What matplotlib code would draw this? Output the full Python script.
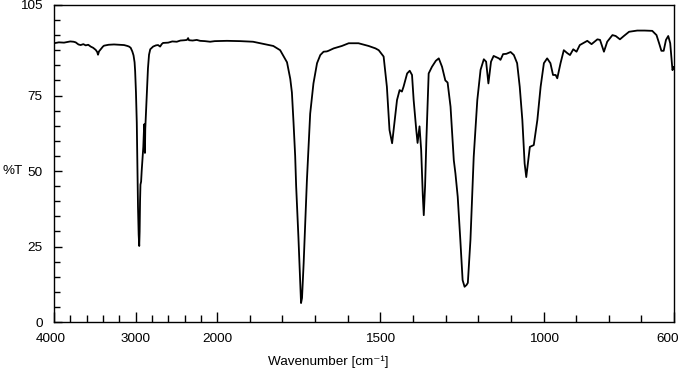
import numpy as np
import matplotlib
matplotlib.use("Agg")
import matplotlib.pyplot as plt
import matplotlib.transforms as mtransforms

plt.rcParams['font.family'] = ['Liberation Sans', 'DejaVu Sans']

# IR spectrum (wavenumber cm-1, %T)
wavenumber = [4000, 3940, 3877, 3800, 3760, 3734, 3700, 3673, 3640, 3611, 3580, 3550,
              3520, 3488, 3470, 3460, 3448, 3427, 3400, 3386, 3330, 3264, 3200, 3141,
              3100, 3080, 3060, 3040, 3025, 3012, 3005, 2995, 2985, 2978, 2970, 2962,
              2955, 2950, 2945, 2940, 2932, 2925, 2915, 2905, 2898, 2893, 2889, 2885,
              2881, 2876, 2868, 2858, 2848, 2835, 2820, 2800, 2785, 2750, 2724, 2699,
              2680, 2663, 2600, 2550, 2495, 2450, 2400, 2370, 2356, 2345, 2300, 2250,
              2209, 2150, 2086, 2030, 1970, 1929, 1890, 1868, 1828, 1807, 1786, 1776,
              1771, 1766, 1761, 1758, 1751, 1746, 1743, 1740, 1735, 1730, 1725, 1715,
              1705, 1694, 1684, 1674, 1664, 1659, 1643, 1618, 1597, 1567, 1536, 1515,
              1505, 1490, 1480, 1472, 1464, 1456, 1449, 1441, 1434, 1429, 1418, 1410,
              1403, 1398, 1390, 1386, 1380, 1375, 1370, 1367, 1363, 1359, 1352, 1342,
              1330, 1321, 1311, 1301, 1294, 1285, 1275, 1270, 1263, 1255, 1248, 1242,
              1236, 1232, 1224, 1214, 1203, 1193, 1183, 1176, 1169, 1161, 1153, 1137,
              1132, 1124, 1114, 1101, 1091, 1081, 1073, 1065, 1058, 1053, 1047, 1042,
              1030, 1019, 1009, 999, 989, 979, 971, 963, 958, 948, 938, 927,
              919, 909, 899, 889, 876, 866, 853, 835, 827, 815, 805, 789,
              779, 766, 754, 738, 713, 690, 667, 654, 646, 639, 632, 625,
              618, 612, 605, 601]
transmittance = [92.3, 92.6, 92.5, 92.9, 92.8, 92.6, 91.9, 91.7, 92.0, 91.6, 91.8, 91.2,
                 90.8, 90.1, 89.4, 88.5, 89.6, 90.3, 91.2, 91.5, 91.8, 91.9, 91.8, 91.7,
                 91.4, 91.2, 90.8, 89.6, 88.3, 86.0, 83.0, 76.0, 66.0, 52.0, 38.0, 29.0,
                 25.2, 30.0, 40.0, 45.5, 46.5, 50.0, 54.0, 58.0, 63.0, 65.5, 57.0, 56.0,
                 64.0, 67.0, 72.0, 78.0, 84.0, 88.5, 90.3, 90.8, 91.2, 91.6, 91.7, 91.2,
                 92.0, 92.4, 92.5, 92.9, 92.8, 93.2, 93.3, 93.4, 94.0, 93.3, 93.2, 93.4,
                 93.1, 93.0, 92.8, 93.0, 93.1, 93.0, 92.8, 92.3, 91.4, 90.0, 86.0, 80.5,
                 76.0, 66.0, 55.0, 45.0, 28.0, 14.0, 6.3, 8.0, 19.5, 33.0, 47.0, 69.0,
                 79.0, 85.7, 88.4, 89.5, 89.6, 89.8, 90.6, 91.4, 92.3, 92.3, 91.4, 90.6,
                 90.0, 87.9, 77.9, 63.6, 59.2, 66.9, 73.5, 76.8, 76.3, 77.9, 82.3, 83.2,
                 81.8, 73.5, 63.6, 59.3, 64.8, 57.0, 42.0, 35.4, 45.0, 60.3, 82.3, 84.5,
                 86.5, 87.3, 84.5, 80.0, 79.3, 71.3, 53.6, 49.2, 41.5, 27.2, 13.9, 11.7,
                 12.3, 13.0, 27.2, 54.7, 73.5, 83.5, 87.0, 86.2, 79.0, 86.2, 88.1, 87.3,
                 86.8, 88.7, 88.8, 89.4, 88.4, 85.7, 77.9, 66.9, 52.5, 48.0, 53.6, 58.0,
                 58.6, 66.9, 77.9, 85.7, 87.3, 85.7, 81.8, 81.8, 80.7, 85.7, 90.0, 89.0,
                 88.4, 90.3, 89.5, 91.7, 92.5, 93.1, 92.0, 93.6, 93.4, 89.5, 92.8, 95.0,
                 94.7, 93.6, 94.7, 96.1, 96.5, 96.5, 96.4, 95.0, 92.3, 89.8, 89.8, 93.4,
                 94.7, 92.3, 83.4, 84.5]

x_major = [4000, 3000, 2000, 1500, 1000, 600]
x_minor = [3800, 3600, 3400, 3200, 2800, 2600, 2400, 2200,
           1900, 1800, 1700, 1600, 1400, 1300, 1200, 1100, 900, 800, 700]
y_major = [0, 25, 50, 75, 105]
y_minor = [5, 10, 15, 20, 30, 35, 40, 45, 55, 60, 65, 70, 80, 85, 90, 95, 100]


# axis is compressed 4x above 2000 cm-1
def fwd(x):
    x = np.asarray(x, dtype=float)
    return np.where(x > 2000, 2000 + (x - 2000) / 4.0, x)


def inv(t):
    t = np.asarray(t, dtype=float)
    return np.where(t > 2000, 2000 + (t - 2000) * 4.0, t)


fig = plt.figure(figsize=(6.83, 3.75), dpi=100)
ax = fig.add_axes([0.079, 0.141, 0.908, 0.846])

ax.plot(wavenumber, transmittance, color='black', lw=1.3,
        solid_joinstyle='round', solid_capstyle='round')

ax.set_xscale('function', functions=(fwd, inv))
ax.set_xlim(4000, 600)
ax.set_ylim(0, 105)

ax.set_xticks(x_major)
ax.set_xticklabels([str(v) for v in x_major])
ax.set_xticks(x_minor, minor=True)
ax.set_yticks(y_major)
ax.set_yticklabels([str(v) for v in y_major])
ax.set_yticks(y_minor, minor=True)

ax.tick_params(which='both', direction='in', top=False, right=False,
               labelsize=9.7, width=1, colors='black')
ax.tick_params(axis='x', which='major', length=7, pad=8)
ax.tick_params(axis='x', which='minor', length=5)
ax.tick_params(axis='y', which='major', length=6, pad=8)
ax.tick_params(axis='y', which='minor', length=4.5)

# nudge the first and last x labels so they stay inside the figure
lbls = ax.get_xticklabels()
lbls[-1].set_transform(lbls[-1].get_transform() +
                       mtransforms.ScaledTranslation(-6 / 100, 0, fig.dpi_scale_trans))
lbls[0].set_transform(lbls[0].get_transform() +
                      mtransforms.ScaledTranslation(-3 / 100, 0, fig.dpi_scale_trans))

for s in ax.spines.values():
    s.set_linewidth(1)

fig.text(0.003, 1 - 171 / 375, '%T', fontsize=9.7, va='center', ha='left')
fig.text(328 / 683, 1 - 362 / 375, 'Wavenumber [cm⁻¹]', fontsize=9.7,
         va='center', ha='center')

fig.savefig('out.png', dpi=100)
